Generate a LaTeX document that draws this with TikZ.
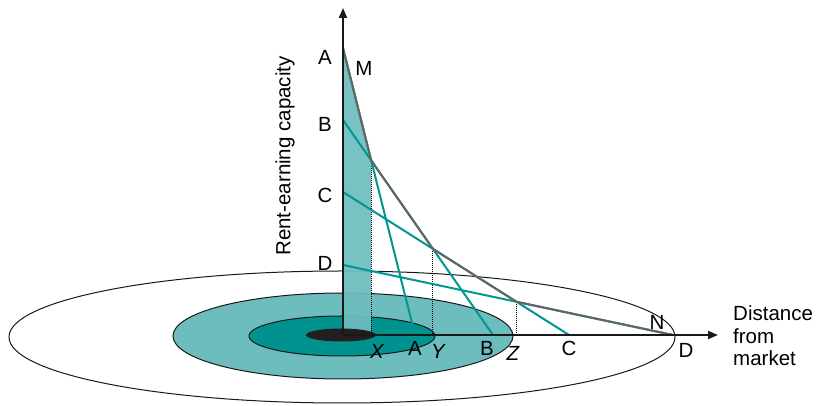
\documentclass[tikz,border=0pt]{standalone}
\usepackage{fontspec}
\setmainfont{Liberation Sans}
\usepackage{tikz}
\usetikzlibrary{arrows.meta}
\definecolor{ringlight}{RGB}{110,189,190}
\definecolor{ringdark}{RGB}{0,146,143}
\definecolor{rentteal}{RGB}{0,150,145}
\definecolor{envgray}{RGB}{100,100,100}
\definecolor{coreblack}{RGB}{35,31,32}

\begin{document}
\begin{tikzpicture}[x=1pt, y=1pt, >={Triangle[length=10pt,width=8pt]},
  every node/.style={font=\fontsize{20.5}{22.5}\selectfont, inner sep=0pt},
  rentline/.style={rentteal, line width=2pt},
  envelope/.style={envgray, line width=2pt},
  guide/.style={densely dotted, line width=1pt},
  ring/.style={draw=black!90, line width=1pt},
  axis/.style={->, line width=1.8pt, black!90}]

\useasboundingbox (-343,-71) rectangle (476,335);

% Rings round the market
\draw[ring, fill=white] (-1,-2) ellipse [x radius=333, y radius=66];
\draw[ring, fill=ringlight] (0,-1) ellipse [x radius=170, y radius=43];
\draw[ring, fill=ringdark] (-1,-1) ellipse [x radius=93, y radius=20];

% Points on the axes
\coordinate (O) at (0,0);
\coordinate (ytop) at (0,327);
\coordinate (xend) at (375,0);
\coordinate (yA) at (0,287);
\coordinate (yB) at (0,215);
\coordinate (yC) at (0,143);
\coordinate (yD) at (0,70);
\coordinate (xA) at (72,0);
\coordinate (xB) at (150,0);
\coordinate (xC) at (226,0);
\coordinate (xD) at (330,0);
\coordinate (AB) at (intersection of yA--xA and yB--xB);
\coordinate (BC) at (intersection of yB--xB and yC--xC);
\coordinate (CD) at (intersection of yC--xC and yD--xD);

% Shaded strip and the market
\fill[ringlight, fill opacity=0.93] (yA) -- (AB) -- (AB |- O) -- (O) -- cycle;
\fill[coreblack] (-2,0) ellipse [x radius=35, y radius=6.5];

% Dotted guides
\draw[guide] (AB) -- (AB |- O);
\draw[guide] (BC) -- (BC |- O);
\draw[guide] (CD) -- (CD |- O);

% Rent lines
\draw[rentline] (yA) -- (xA);
\draw[rentline] (yB) -- (xB);
\draw[rentline] (yC) -- (xC);
\draw[rentline] (yD) -- (xD);

% Envelope M--N
\draw[envelope] (yA) -- (AB) -- (BC) -- (CD) -- (xD);

% Axes
\draw[axis] (O) -- (ytop);
\draw[axis] (O) -- (xend);

% Labels on the rent axis
\node (rA) at (-18,278) {A};
\node (rB) at (-18,211) {B};
\node (rC) at (-18,140) {C};
\node (rD) at (-18,72) {D};
\node (lM) at (21,267) {M};
\node (lN) at (314,13) {N};

% Labels on the distance axis
\node (lX) at (34,-16) {\itshape X};
\node (dA) at (72,-13) {A};
\node (lY) at (95,-16) {\itshape Y};
\node (dB) at (144,-13) {B};
\node (lZ) at (170,-18) {\itshape Z};
\node (dC) at (226,-13) {C};
\node (dD) at (343,-15) {D};

% Axis titles
\node[rotate=90] (ylabel) at (-58,179) {Rent-earning capacity};
\node[anchor=west, align=left] (xlabel) at (390,-1) {Distance\\from\\market};
\end{tikzpicture}
\end{document}
